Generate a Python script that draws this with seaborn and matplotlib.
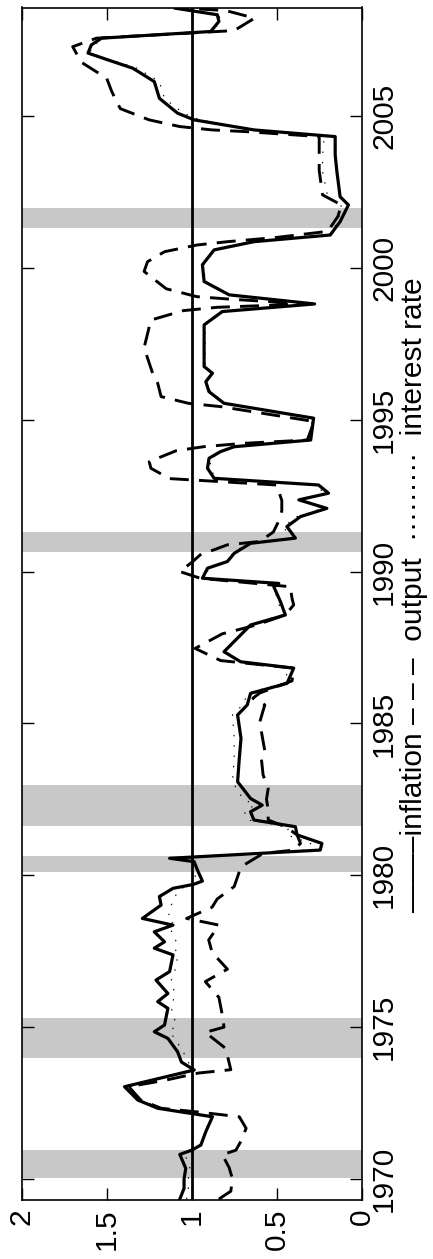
import numpy as np
import pandas as pd
import matplotlib
matplotlib.use("Agg")
import matplotlib.pyplot as plt
import seaborn as sns

# ---------------- data ----------------
inflation_year = [1969.34, 1969.69, 1970.00, 1970.35, 1970.81, 1970.95, 1971.12, 1971.56, 1972.05, 1972.33,
                  1972.60, 1973.04, 1973.59, 1973.85, 1974.19, 1974.63, 1974.85, 1975.07, 1975.62, 1975.84,
                  1976.11, 1976.55, 1976.83, 1977.38, 1977.60, 1977.81, 1978.14, 1978.36, 1978.58, 1979.02,
                  1979.30, 1979.57, 1979.70, 1979.81, 1980.17, 1980.45, 1980.56, 1980.83, 1981.05, 1981.33,
                  1981.60, 1981.82, 1982.09, 1982.31, 1982.53, 1983.08, 1983.85, 1984.51, 1985.28, 1985.61,
                  1985.99, 1986.32, 1986.82, 1987.03, 1987.36, 1988.24, 1988.57, 1989.01, 1989.50, 1989.61,
                  1989.78, 1990.11, 1990.33, 1990.60, 1990.93, 1991.10, 1991.48, 1991.81, 1992.08, 1992.36,
                  1992.58, 1992.85, 1993.07, 1993.40, 1993.73, 1993.95, 1994.11, 1994.33, 1995.05, 1995.54,
                  1995.92, 1996.25, 1996.53, 1996.75, 1997.46, 1998.12, 1998.56, 1998.81, 1999.11, 1999.55,
                  2000.10, 2000.59, 2000.86, 2001.08, 2001.52, 2002.07, 2002.34, 2003.17, 2003.72, 2004.32,
                  2004.54, 2004.87, 2005.09, 2005.58, 2006.13, 2006.57, 2006.84, 2007.07, 2007.34, 2007.56,
                  2007.78, 2008.11, 2008.33, 2008.55]
inflation = [1.07, 1.045, 1.045, 1.035, 1.07, 1.00, 0.946, 0.917, 0.878, 1.20,
             1.317, 1.395, 0.985, 1.06, 1.083, 1.14, 1.22, 1.16, 1.14, 1.20,
             1.14, 1.21, 1.13, 1.11, 1.22, 1.16, 1.22, 1.11, 1.29, 1.18,
             1.19, 1.11, 0.99, 0.937, 0.966, 0.986, 1.13, 0.244, 0.234, 0.38,
             0.39, 0.634, 0.654, 0.585, 0.654, 0.73, 0.72, 0.71, 0.73, 0.673,
             0.654, 0.439, 0.40, 0.712, 0.81, 0.654, 0.449, 0.478, 0.517, 0.488,
             0.937, 0.907, 0.79, 0.75, 0.654, 0.39, 0.44, 0.36, 0.205, 0.37,
             0.195, 0.254, 0.868, 0.907, 0.898, 0.83, 0.75, 0.30, 0.283, 0.81,
             0.898, 0.917, 0.878, 0.927, 0.927, 0.927, 0.82, 0.277, 0.78, 0.927,
             0.937, 0.868, 0.634, 0.185, 0.127, 0.078, 0.127, 0.146, 0.156, 0.156,
             0.634, 0.985, 1.083, 1.19, 1.22, 1.346, 1.49, 1.61, 1.59, 1.53,
             0.888, 0.84, 0.849, 1.10]

output_year = [1969.34, 1969.60, 1970.00, 1970.38, 1970.80, 1970.95, 1971.25, 1971.67, 1972.05, 1972.20,
               1972.33, 1972.60, 1973.04, 1973.26, 1973.49, 1973.60, 1974.30, 1974.83, 1975.00, 1975.40,
               1975.98, 1976.50, 1976.91, 1977.46, 1977.87, 1978.36, 1978.58, 1978.95, 1979.22, 1979.63,
               1980.28, 1980.72, 1980.83, 1981.05, 1981.33, 1981.60, 1981.82, 1982.15, 1982.50, 1982.86,
               1983.30, 1983.83, 1984.10, 1985.04, 1985.61, 1985.83, 1986.00, 1986.40, 1986.82, 1987.07,
               1987.47, 1987.95, 1988.24, 1988.57, 1988.90, 1989.12, 1989.50, 1989.78, 1990.00, 1990.30,
               1990.55, 1990.88, 1990.99, 1991.30, 1991.64, 1992.00, 1992.34, 1992.85, 1993.06, 1993.40,
               1993.62, 1993.98, 1994.11, 1994.22, 1994.33, 1994.94, 1995.43, 1995.54, 1995.76, 1996.20,
               1996.53, 1997.37, 1998.28, 1998.59, 1998.70, 1998.81, 1998.97, 1999.05, 1999.31, 1999.88,
               2000.20, 2000.53, 2000.75, 2000.86, 2001.00, 2001.20, 2001.69, 2002.07, 2002.40, 2003.20,
               2003.90, 2004.32, 2004.48, 2004.54, 2004.65, 2004.87, 2005.24, 2005.80, 2006.24, 2006.77,
               2007.28, 2007.56, 2007.81, 2008.22, 2008.47, 2008.55]
output = [0.84, 0.77, 0.76, 0.78, 0.82, 0.74, 0.71, 0.68, 0.72, 0.95,
          1.18, 1.30, 1.37, 1.15, 0.96, 0.77, 0.80, 0.92, 0.81, 0.82,
          0.84, 0.92, 0.79, 0.88, 0.90, 0.84, 1.03, 0.88, 0.85, 0.75,
          0.71, 0.58, 0.40, 0.36, 0.38, 0.45, 0.55, 0.55, 0.56, 0.55,
          0.58, 0.59, 0.57, 0.60, 0.57, 0.64, 0.60, 0.41, 0.40, 0.83,
          0.98, 0.82, 0.62, 0.45, 0.40, 0.41, 0.42, 0.95, 1.07, 1.00,
          0.95, 0.79, 0.60, 0.52, 0.49, 0.47, 0.47, 0.50, 1.13, 1.24,
          1.25, 1.09, 0.93, 0.70, 0.32, 0.28, 0.83, 1.02, 1.18, 1.20,
          1.23, 1.28, 1.24, 1.05, 0.85, 0.32, 0.78, 0.97, 1.15, 1.28,
          1.26, 1.16, 0.97, 0.79, 0.50, 0.20, 0.14, 0.12, 0.23, 0.25,
          0.25, 0.25, 0.67, 0.88, 1.07, 1.25, 1.42, 1.47, 1.50, 1.65,
          1.70, 1.56, 0.75, 0.63, 0.80, 1.05]

interest_year = inflation_year
interest = [1.03, 1.02, 1.02, 1.01, 1.04, 0.99, 0.95, 0.92, 0.89, 1.17,
            1.30, 1.37, 0.99, 1.02, 1.05, 1.10, 1.13, 1.09, 1.12, 1.11,
            1.10, 1.12, 1.10, 1.08, 1.10, 1.09, 1.12, 1.10, 1.14, 1.12,
            1.10, 1.06, 1.00, 0.97, 0.99, 1.00, 1.05, 0.33, 0.30, 0.44,
            0.43, 0.67, 0.69, 0.63, 0.70, 0.76, 0.75, 0.75, 0.76, 0.70,
            0.67, 0.47, 0.42, 0.70, 0.80, 0.66, 0.47, 0.49, 0.52, 0.50,
            0.92, 0.90, 0.79, 0.76, 0.67, 0.42, 0.46, 0.38, 0.23, 0.37,
            0.22, 0.27, 0.86, 0.89, 0.89, 0.82, 0.74, 0.31, 0.29, 0.80,
            0.89, 0.91, 0.88, 0.92, 0.92, 0.92, 0.81, 0.29, 0.77, 0.92,
            0.93, 0.86, 0.63, 0.19, 0.14, 0.12, 0.20, 0.23, 0.23, 0.22,
            0.62, 0.95, 1.05, 1.16, 1.19, 1.32, 1.47, 1.60, 1.58, 1.50,
            0.88, 0.83, 0.84, 1.08]

recession_start = [1970.04, 1973.97, 1980.12, 1981.63, 1990.64, 2001.30]
recession_end = [1970.95, 1975.31, 1980.64, 1982.97, 1991.30, 2001.97]

value_ticks = [0, 0.5, 1, 1.5, 2]
value_tick_labels = ["0", "0.5", "1", "1.5", "2"]
year_ticks = [1970, 1975, 1980, 1985, 1990, 1995, 2000, 2005]
year_tick_labels = ["1970", "1975", "1980", "1985", "1990", "1995", "2000", "2005"]
legend_label = "\u2014\u2014\u2013inflation \u2013 \u2013 \u2013  output  " + "\u00b7" * 9 + "  interest rate"

# ---------------- figure ----------------
sns.set_theme(style="white")
plt.rcParams["font.family"] = ["Liberation Sans", "DejaVu Sans"]
plt.rcParams["axes.linewidth"] = 1.2

W, H = 433, 1259
fig = plt.figure(figsize=(W / 100, H / 100), dpi=100)
ax = fig.add_axes([21.7 / W, (H - 1200) / H, 340 / W, (1200 - 7.5) / H])

for s, e in zip(recession_start, recession_end):
    ax.axhspan(s, e, color="#c8c8c8", lw=0, zorder=0)

ax.axvline(1.0, color="black", linewidth=2.0, zorder=2)

df_i = pd.DataFrame({"year": interest_year, "value": interest})
df_o = pd.DataFrame({"year": output_year, "value": output})
df_p = pd.DataFrame({"year": inflation_year, "value": inflation})

sns.lineplot(data=df_i, x="value", y="year", orient="y", sort=False, estimator=None, ax=ax,
             color="black", linewidth=0.8, linestyle=(0, (1.3, 8)), zorder=3)
sns.lineplot(data=df_o, x="value", y="year", orient="y", sort=False, estimator=None, ax=ax,
             color="black", linewidth=2.1, linestyle=(0, (6.5, 3.5)), zorder=4)
sns.lineplot(data=df_p, x="value", y="year", orient="y", sort=False, estimator=None, ax=ax,
             color="black", linewidth=2.3, zorder=5)

ax.set_xlim(2, 0)
ax.set_ylim(1969.31, 2008.57)
ax.set_xlabel("")
ax.set_ylabel("")

ax.set_xticks(value_ticks)
ax.set_xticklabels(value_tick_labels, rotation=90, fontsize=21.5)
ax.set_yticks(year_ticks)
ax.set_yticklabels(year_tick_labels, rotation=90, va="center", fontsize=21.5)

ax.tick_params(axis="x", bottom=True, top=True, labelbottom=True, labeltop=False,
               direction="in", length=8.6, width=1.0, pad=6, colors="black")
ax.tick_params(axis="y", left=True, right=True, labelleft=False, labelright=True,
               direction="in", length=8.6, width=1.0, pad=6, colors="black")
for sp in ax.spines.values():
    sp.set_color("black")
    sp.set_linewidth(1.2)
    sp.set_visible(True)

fig.text(414 / W, (H - 595) / H, legend_label, rotation=90, ha="center", va="center",
         fontsize=21.5, color="black")

fig.savefig("out.png", dpi=100)
